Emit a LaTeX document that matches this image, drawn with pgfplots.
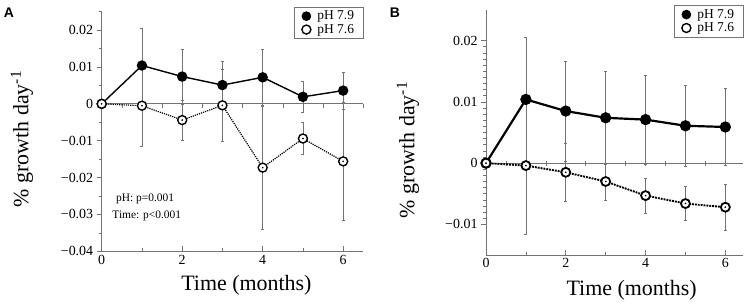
\documentclass[border=0pt]{standalone}
\usepackage{fontspec}
\setmainfont{Liberation Serif}
\newfontfamily\panelfont{Liberation Sans}
\usepackage{pgfplots}
\pgfplotsset{compat=1.18}
\colorlet{axgray}{black!55}
\pgfplotsset{
 myaxis/.style={
  scale only axis,
  anchor=south west,
  axis x line*=bottom, axis y line*=left,
  axis line style={-, axgray, line width=0.8pt},
  tick align=outside, xtick align=inside,
  major tick length=5bp, minor tick length=3bp,
  every tick/.style={axgray, line width=0.6pt},
  xtick={0,2,4,6}, minor x tick num=1, xmin=0,
  scaled y ticks=false,
  tick label style={font=\fontsize{14}{14}\selectfont},
  /pgf/number format/assume math mode=true,
  label style={font=\fontsize{22}{22}\selectfont},
  xlabel={Time (months)},
  ylabel={\% growth day\textsuperscript{-1}},
  legend style={at={(1,1.021)}, anchor=north east, draw=axgray, line width=0.6pt,
     font=\fontsize{13.5}{13.5}\selectfont, row sep=1bp, inner xsep=8bp, inner ysep=3bp,
     nodes={inner sep=1bp}, cells={anchor=west},
     /tikz/every odd column/.append style={column sep=5.5bp}},
  legend image code/.code={\draw[#1] plot coordinates {(0bp,0bp)};},
  clip=false,
 },
 ebstyle/.style={
   error bars/y dir=both, error bars/y explicit,
   error bars/error bar style={axgray, line width=0.6pt, solid},
   error bars/error mark options={axgray, rotate=90, mark size=1.5bp, line width=0.6pt, solid}},
 s79/.style={black, solid, line width=#1, mark=*, mark size=4.5bp, mark options={solid, fill=black}, ebstyle},
 s76/.style 2 args={black, densely dotted, line width=#1, mark=*, mark size=4.5bp, mark options={solid, fill=white, draw=black, line width=#2}, ebstyle},
 leg79/.style={mark=*, black, mark size=4.5bp},
 leg76/.style={mark=*, mark size=4.5bp, mark options={fill=white, draw=black, line width=1.4pt}},
}
\begin{document}
\begin{tikzpicture}
% Panel A
\begin{axis}[myaxis, at={(101.7bp,55.7bp)}, width=261.6bp, height=239.6bp,
  xmax=6.5, ymin=-0.04, ymax=0.025,
  ytick={-0.04,-0.03,-0.02,-0.01,0,0.01,0.02},
  yticklabels={−0.04,−0.03,−0.02,−0.01,0,0.01,0.02},
  minor ytick={-0.035,-0.025,-0.015,-0.005,0.005,0.015,0.025},
  xlabel style={at={(axis description cs:0.553,-0.141)}, anchor=center},
  ylabel style={at={(axis description cs:-0.305,0.469)}, anchor=center}]
\draw[axgray, line width=0.8pt] (axis cs:0,0) -- (axis cs:6.5,0);
\pgfplotsinvokeforeach{0.5,1,1.5,2,2.5,3,3.5,4,4.5,5,5.5,6,6.5}{
  \draw[axgray, line width=0.6pt] (axis cs:#1,0) -- ([yshift=-4bp]axis cs:#1,0);
}
\addplot[forget plot, s79=1.4pt] coordinates {
(0,0) +- (0,0)
(1,0.0104) +- (0,0.0100)
(2,0.0074) +- (0,0.0074)
(3,0.0051) +- (0,0.0064)
(4,0.0072) +- (0,0.0076)
(5,0.0019) +- (0,0.0043)
(6,0.0036) +- (0,0.0050)
};
\addplot[forget plot, s76={1.2pt}{1.4pt}] coordinates {
(0,0) +- (0,0)
(1,-0.0005) +- (0,0.0111)
(2,-0.0044) +- (0,0.0054)
(3,-0.0004) +- (0,0.0098)
(4,-0.0173) +- (0,0.0166)
(5,-0.0094) +- (0,0.0043)
(6,-0.0156) +- (0,0.0159)
};
\addplot[forget plot, only marks, mark=*, mark size=0.6bp, black] coordinates {
(0,0) (1,-0.0005) (2,-0.0044) (3,-0.0004) (4,-0.0173) (5,-0.0094) (6,-0.0156)};
\addlegendimage{leg79}
\addlegendentry{pH 7.9}
\addlegendimage{leg76}
\addlegendentry{pH 7.6}
\node[font=\fontsize{11.5}{11.5}\selectfont] at (axis cs:1.08,-0.0258) {pH: p=0.001};
\node[font=\fontsize{11.5}{11.5}\selectfont] at (axis cs:1.12,-0.0305) {Time: p<0.001};
\end{axis}
% Panel B
\begin{axis}[myaxis, at={(486bp,52bp)}, width=257.3bp, height=245bp,
  xmax=6.45, ymin=-0.015, ymax=0.025,
  ytick={-0.01,0,0.01,0.02},
  yticklabels={−0.01,0,0.01,0.02},
  minor y tick num=9,
  legend style={at={(1,1.02)}},
  xlabel style={at={(axis description cs:0.566,-0.143)}, anchor=center},
  ylabel style={at={(axis description cs:-0.303,0.429)}, anchor=center}]
\draw[axgray, line width=0.8pt] (axis cs:0,0) -- (axis cs:6.45,0);
\pgfplotsinvokeforeach{0.5,1,1.5,2,2.5,3,3.5,4,4.5,5,5.5,6}{
  \draw[axgray, line width=0.6pt] ([yshift=2bp]axis cs:#1,0) -- ([yshift=-3bp]axis cs:#1,0);
}
\addplot[forget plot, s79=2.2pt] coordinates {
(0,0) +- (0,0)
(1,0.0104) +- (0,0.0102)
(2,0.0085) +- (0,0.0082)
(3,0.0074) +- (0,0.0076)
(4,0.0071) +- (0,0.0073)
(5,0.0061) +- (0,0.0066)
(6,0.0059) +- (0,0.0063)
};
\addplot[forget plot, s76={1.9pt}{1.8pt}] coordinates {
(0,0) +- (0,0)
(1,-0.0004) +- (0,0.0112)
(2,-0.0015) +- (0,0.0047)
(3,-0.0030) +- (0,0.0030)
(4,-0.0053) +- (0,0.0029)
(5,-0.0066) +- (0,0.0028)
(6,-0.0072) +- (0,0.0038)
};
\addplot[forget plot, only marks, mark=*, mark size=0.6bp, black] coordinates {
(0,0) (1,-0.0004) (2,-0.0015) (3,-0.0030) (4,-0.0053) (5,-0.0066) (6,-0.0072)};
\addlegendimage{leg79}
\addlegendentry{pH 7.9}
\addlegendimage{leg76}
\addlegendentry{pH 7.6}
\end{axis}
\node[font=\panelfont\bfseries\fontsize{14}{14}\selectfont] at (9bp,294bp) {A};
\node[font=\panelfont\bfseries\fontsize{14}{14}\selectfont] at (395bp,294bp) {B};
\pgfresetboundingbox
\path[use as bounding box] (0,0) rectangle (751bp,307bp);
\end{tikzpicture}
\end{document}
